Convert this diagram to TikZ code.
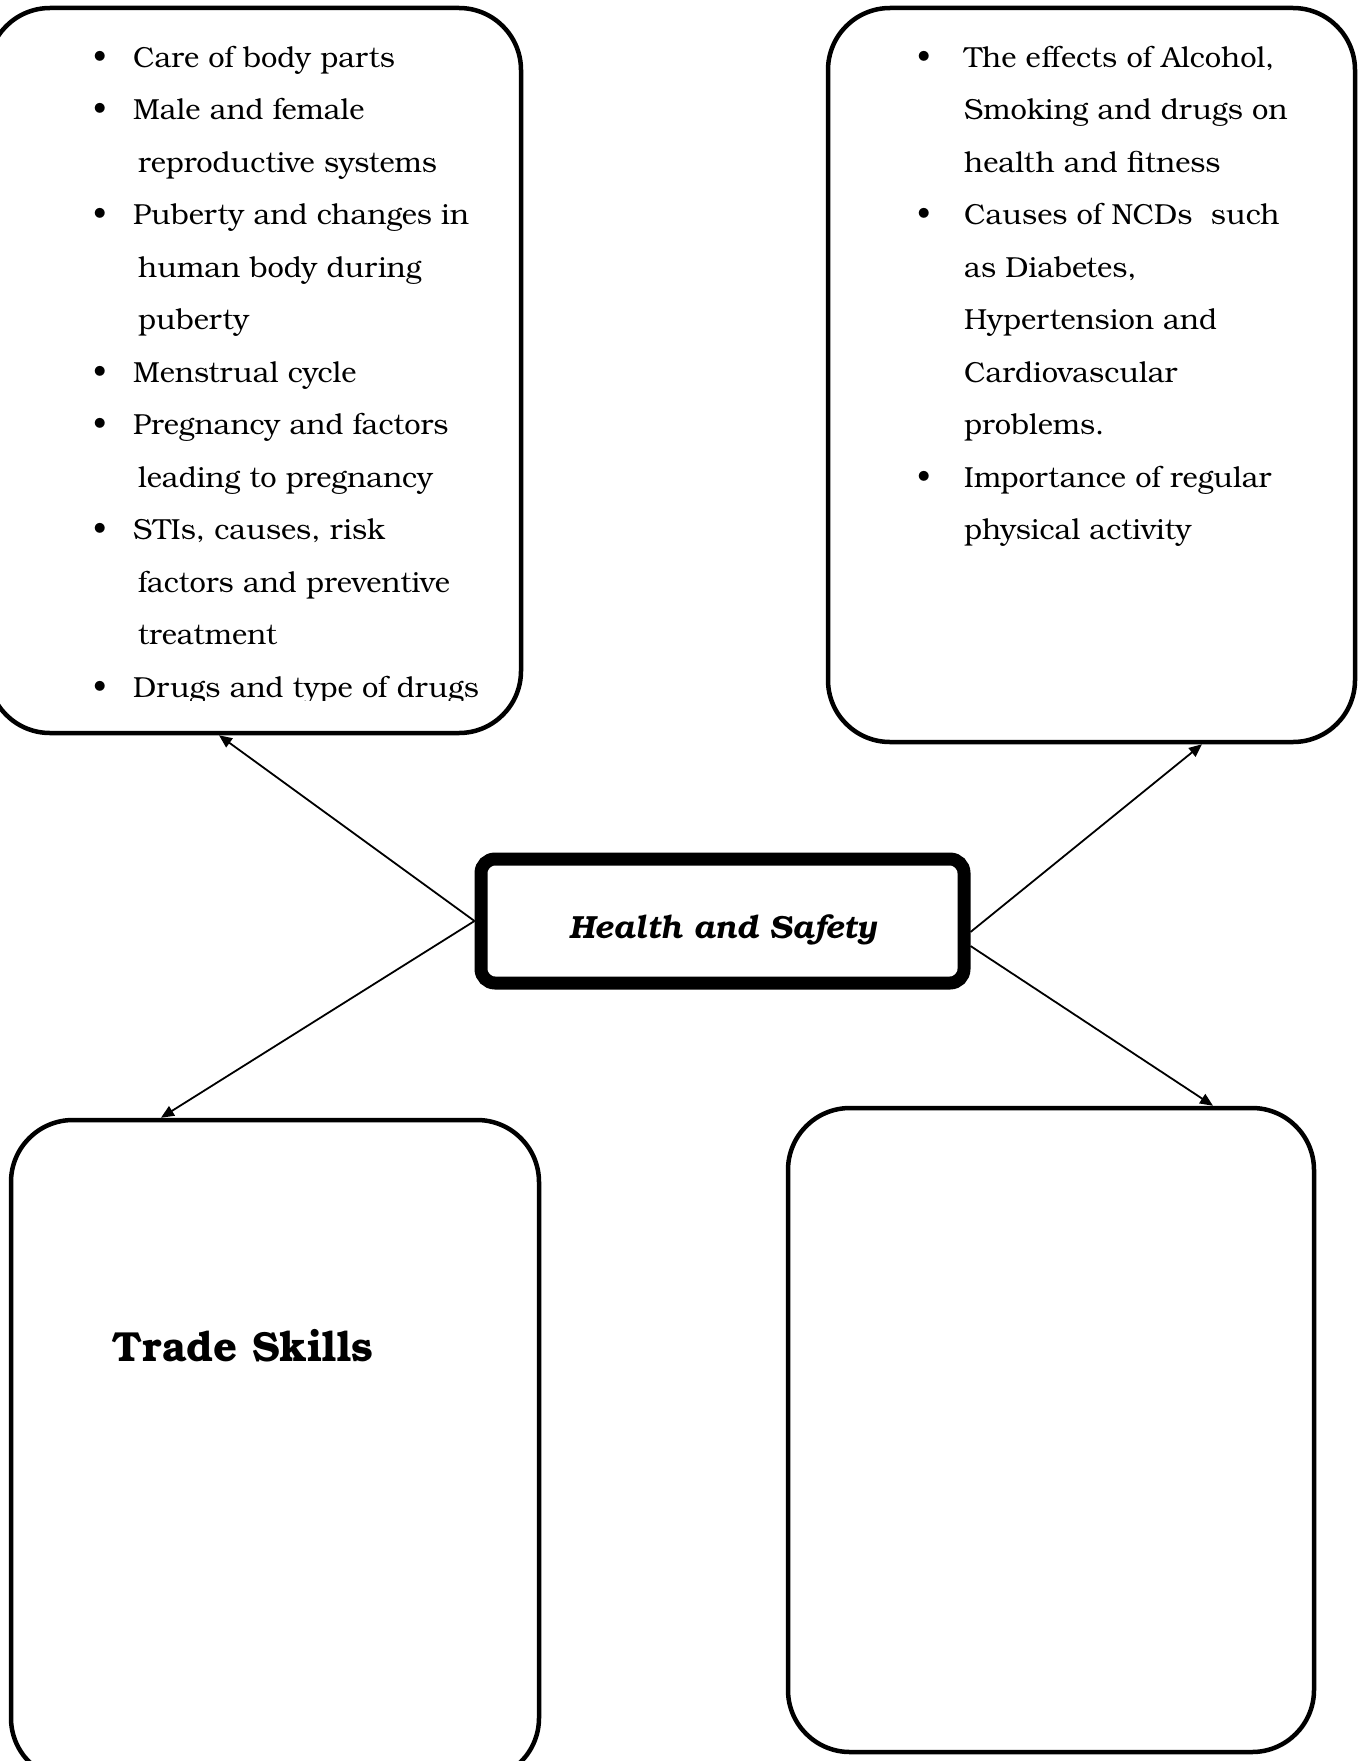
\documentclass[tikz,border=0pt]{standalone}
\usepackage{fontspec}
\setmainfont{TeX Gyre Bonum}
\usetikzlibrary{arrows.meta}

\newcommand{\bul}{\makebox[40pt][l]{\textbullet}}
\newcommand{\rbul}{\makebox[47pt][l]{\textbullet}}

\begin{document}
\begin{tikzpicture}[x=1pt,y=-1pt,topic_box/.style={rectangle,draw,line width=4.5pt,rounded corners=62pt,inner sep=0pt},main_box/.style={rectangle,draw,line width=13pt,rounded corners=14pt,inner sep=0pt,minimum width=483pt,minimum height=124pt},list_text/.style={anchor=north west,align=left,inner sep=0pt,font=\fontsize{29}{52.5}\selectfont},arr/.style={line width=1.8pt,-{Triangle[length=13pt,width=11pt]}}]
		
		\useasboundingbox (0,0) rectangle (1366,1761);
		\clip (0,0) rectangle (1366,1761);
		
		\node[topic_box,minimum width=533pt,minimum height=725pt] (tl) at (254.5,370.5) {};
		\node[topic_box,minimum width=527pt,minimum height=734pt] (tr) at (1091.5,375) {};
		\node[topic_box,minimum width=528pt,minimum height=660pt] (bl) at (275,1450) {};
		\node[topic_box,minimum width=526pt,minimum height=644pt] (br) at (1051,1430) {};
		
		\node[main_box] (hs) at (722.5,921) {};
		\node[inner sep=0pt,font=\fontsize{32}{38}\selectfont\bfseries\itshape] (hs_label) at ([yshift=-9pt]hs.center) {Health and Safety};
		
		\begin{scope}
		\clip (0,0) rectangle (521,700);
		\node[list_text] (tl_text) at (93,46) {\bul Care of body parts\\
			\bul Male and female\\
			\hspace*{45pt}reproductive systems\\
			\bul Puberty and changes in\\
			\hspace*{45pt}human body during\\
			\hspace*{45pt}puberty\\
			\bul Menstrual cycle\\
			\bul Pregnancy and factors\\
			\hspace*{45pt}leading to pregnancy\\
			\bul STIs, causes, risk\\
			\hspace*{45pt}factors and preventive\\
			\hspace*{45pt}treatment\\
			\bul Drugs and type of drugs};
		\end{scope}
		
		\node[list_text] (tr_text) at (917,46) {\rbul The effects of Alcohol,\\
			\hspace*{47pt}Smoking and drugs on\\
			\hspace*{47pt}health and fitness\\
			\rbul Causes of NCDs\ \ such\\
			\hspace*{47pt}as Diabetes,\\
			\hspace*{47pt}Hypertension and\\
			\hspace*{47pt}Cardiovascular\\
			\hspace*{47pt}problems.\\
			\rbul Importance of regular\\
			\hspace*{47pt}physical activity};
		
		\node[anchor=west,inner sep=0pt,font=\fontsize{42}{50}\selectfont\bfseries] (trade) at (112,1346) {Trade Skills};
		
		\draw[arr] (hs.west) -- ([xshift=-35.5pt]tl.south);
		\draw[arr] (hs.west) -- ([xshift=-114pt]bl.north);
		\draw[arr] ([yshift=-11pt]hs.east) -- ([xshift=110.5pt]tr.south);
		\draw[arr] ([yshift=-25pt]hs.east) -- ([xshift=162pt]br.north);
		\end{tikzpicture}
\end{document}
